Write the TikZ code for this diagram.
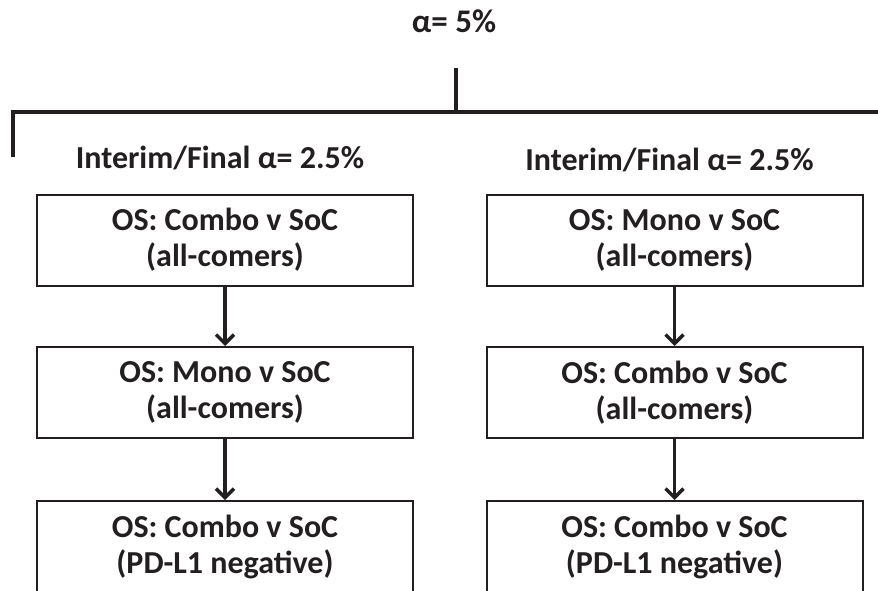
\documentclass[tikz,border=0pt]{standalone}
\usepackage{fontspec}
\setmainfont{Carlito}
\usepackage{xcolor}
\usepackage{tikz}
\usetikzlibrary{arrows.meta}
\usetikzlibrary{positioning}
\definecolor{ink}{RGB}{35,31,32}
\tikzset{>={Straight Barb[length=9pt, width=18pt, line width=3.5pt]}}
\tikzstyle{box} = [rectangle, draw = ink, line width = 2pt, minimum width = 376pt, minimum height = 91pt, inner ysep = 2pt, execute at begin node = {\rule{0pt}{33pt}}, align = center, text = ink, font = \fontsize{32}{36}\selectfont\bfseries]
\tikzstyle{lab} = [draw = none, inner sep = 1, text = ink, font = \fontsize{32}{36}\selectfont\bfseries]
\tikzstyle{bar} = [-, draw = ink, line width = 4pt]

\begin{document}
\begin{tikzpicture}[x = 1pt, y = -1pt]
\clip (0, 0) rectangle (878, 591);
\node [lab, font = \fontsize{33}{36}\selectfont\bfseries] (alpha) at (454, 21) {α= 5\%};
\coordinate (top) at (456, 68);
\coordinate (split) at (456, 112);
\coordinate (tick) at (12.5, 157);
\coordinate (rend) at (880, 112);
\draw [bar] (top) -- (split);
\draw [bar] (tick) |- (rend);
% left arm
\node [lab] (IL) at (220, 158) {Interim/Final α= 2.5\%};
\node [box] (L1) at (225, 240) {OS: Combo v SoC\\(all-comers)};
\node [box] (L2) at (225, 392.5) {OS: Mono v SoC\\(all-comers)};
\node [box] (L3) at (225, 546.5) {OS: Combo v SoC\\(PD-L1 negative)};
% right arm
\node [lab] (IR) at (669.5, 160) {Interim/Final α= 2.5\%};
\node [box] (R1) at (674.5, 240) {OS: Mono v SoC\\(all-comers)};
\node [box] (R2) at (674.5, 392.5) {OS: Combo v SoC\\(all-comers)};
\node [box] (R3) at (674.5, 546.5) {OS: Combo v SoC\\(PD-L1 negative)};
\draw [->, draw = ink, line width = 3.5pt] (L1) -- (L2);
\draw [->, draw = ink, line width = 3.5pt] (L2) -- (L3);
\draw [->, draw = ink, line width = 3.5pt] (R1) -- (R2);
\draw [->, draw = ink, line width = 3.5pt] (R2) -- (R3);
\end{tikzpicture}
\end{document}
